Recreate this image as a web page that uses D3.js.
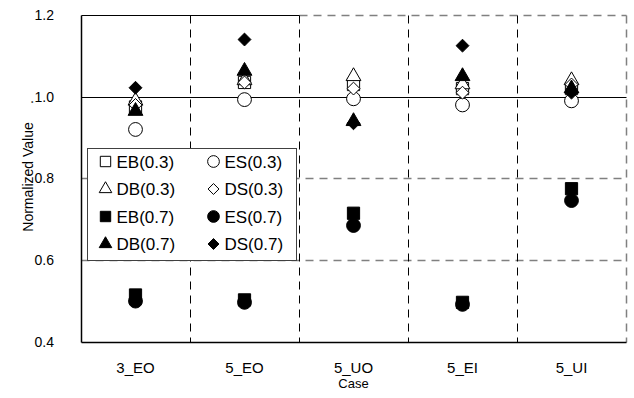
<!DOCTYPE html>
<html>
<head>
<meta charset="utf-8">
<script src="https://cdn.jsdelivr.net/npm/d3@7"></script>
<style>
  body { margin: 0; background: #fff; }
  text { font-family: "Liberation Sans", Arial, sans-serif; fill: #000; }
</style>
</head>
<body>
<div id="chart"></div>
<script>
// data
var cases = ["3_EO", "5_EO", "5_UO", "5_EI", "5_UI"];
var yTicks = [0.4, 0.6, 0.8, 1.0, 1.2];

var EB03 = [0.975, 1.035, 1.03, 1.02, 1.02];
var ES03 = [0.92, 0.993, 0.995, 0.98, 0.99];
var DB03 = [0.99, 1.04, 1.05, 1.03, 1.04];
var DS03 = [0.98, 1.035, 1.02, 1.01, 1.03];
var EB07 = [0.515, 0.503, 0.715, 0.497, 0.775];
var ES07 = [0.50, 0.497, 0.685, 0.492, 0.746];
var DB07 = [0.965, 1.063, 0.94, 1.05, 1.02];
var DS07 = [1.022, 1.14, 0.935, 1.125, 1.01];

var series = [
  {name: "EB(0.3)", values: EB03, shape: "square", filled: false},
  {name: "ES(0.3)", values: ES03, shape: "circle", filled: false},
  {name: "DB(0.3)", values: DB03, shape: "triangle", filled: false},
  {name: "DS(0.3)", values: DS03, shape: "diamond", filled: false},
  {name: "EB(0.7)", values: EB07, shape: "square", filled: true},
  {name: "ES(0.7)", values: ES07, shape: "circle", filled: true},
  {name: "DB(0.7)", values: DB07, shape: "triangle", filled: true},
  {name: "DS(0.7)", values: DS07, shape: "diamond", filled: true}
];

var width = 634, height = 398;
var margin = {left: 81, right: 8, top: 15, bottom: 56};
var w = width - margin.left - margin.right;
var h = height - margin.top - margin.bottom;

var svg = d3.select("#chart").append("svg")
  .attr("width", width).attr("height", height);

var x = d3.scaleBand().domain(cases).range([0, w]);
var y = d3.scaleLinear().domain([0.4, 1.2]).range([h, 0]);

var g = svg.append("g").attr("transform", "translate(" + margin.left + "," + margin.top + ")");
// half pixel shift for crisp 1px lines
var gl = g.append("g").attr("transform", "translate(0.5,0.5)");

// square rotated 45 degrees
var diamondType = {
  draw: function(ctx, size) {
    var r = Math.sqrt(size) / 2 * 1.05;
    ctx.moveTo(0, -r); ctx.lineTo(r, 0); ctx.lineTo(0, r); ctx.lineTo(-r, 0); ctx.closePath();
  }
};
function symType(s) {
  if (s == "square") return d3.symbolSquare;
  if (s == "circle") return d3.symbolCircle;
  if (s == "triangle") return d3.symbolTriangle;
  return diamondType;
}
function symSize(s, k) {
  var a = {square: 150, circle: 150, triangle: 95, diamond: 150}[s];
  return a * k;
}

// gridlines at 0.8 / 0.6 (gray dashed)
gl.selectAll(".hgrid").data([0.6, 0.8]).enter().append("line")
  .attr("x1", 0).attr("x2", w)
  .attr("y1", function(d) { return Math.round(y(d)); }).attr("y2", function(d) { return Math.round(y(d)); })
  .attr("stroke", "#808080").attr("stroke-width", 1.5).attr("stroke-dasharray", "8,6");

// top edge: solid part then dashed
gl.append("line").attr("x1", x(cases[2])).attr("x2", w).attr("y1", y(1.2)).attr("y2", y(1.2))
  .attr("stroke", "#808080").attr("stroke-width", 1.5).attr("stroke-dasharray", "8,6");
gl.append("line").attr("x1", 0).attr("x2", x(cases[2])).attr("y1", y(1.2)).attr("y2", y(1.2))
  .attr("stroke", "#000").attr("stroke-width", 1);
// right edge dashed
gl.append("line").attr("x1", w).attr("x2", w).attr("y1", 0).attr("y2", h)
  .attr("stroke", "#808080").attr("stroke-width", 1.5).attr("stroke-dasharray", "8,6");

// category separators
gl.selectAll(".vsep").data(cases.slice(1)).enter().append("line")
  .attr("x1", function(d) { return Math.round(x(d)); }).attr("x2", function(d) { return Math.round(x(d)); })
  .attr("y1", 0).attr("y2", h)
  .attr("stroke", "#000").attr("stroke-width", 1).attr("stroke-dasharray", "8,6");

// reference line at 1.0
gl.append("line").attr("x1", 0).attr("x2", w).attr("y1", Math.round(y(1.0))).attr("y2", Math.round(y(1.0)))
  .attr("stroke", "#000").attr("stroke-width", 1);

// axes
gl.append("line").attr("x1", 0).attr("x2", 0).attr("y1", 0).attr("y2", h)
  .attr("stroke", "#000").attr("stroke-width", 1.5);
gl.append("line").attr("x1", 0).attr("x2", w).attr("y1", h).attr("y2", h)
  .attr("stroke", "#000").attr("stroke-width", 1.5);

g.selectAll(".ylab").data(yTicks).enter().append("text")
  .attr("x", -27).attr("y", function(d) { return y(d); }).attr("dy", "0.35em")
  .attr("text-anchor", "end").style("font-size", "14px")
  .text(function(d) { return d.toFixed(1); });

g.selectAll(".xlab").data(cases).enter().append("text")
  .attr("x", function(d) { return x(d) + x.bandwidth() / 2; }).attr("y", h + 31)
  .attr("text-anchor", "middle").style("font-size", "15px")
  .text(function(d) { return d; });

svg.append("text").attr("x", margin.left + w / 2).attr("y", 388)
  .attr("text-anchor", "middle").style("font-size", "13px").text("Case");

svg.append("text").attr("transform", "translate(33,177) rotate(-90)")
  .attr("text-anchor", "middle").style("font-size", "14px").text("Normalized Value");
svg.append("text").attr("transform", "translate(33,102) rotate(-90)")
  .attr("text-anchor", "middle").style("font-size", "14px").text(".");

// points
series.forEach(function(s) {
  g.selectAll(null).data(s.values).enter().append("path")
    .attr("transform", function(d, i) { return "translate(" + (x(cases[i]) + x.bandwidth() / 2) + "," + y(d) + ")"; })
    .attr("d", d3.symbol().type(symType(s.shape)).size(symSize(s.shape, 1)))
    .attr("fill", s.filled ? "#000" : "#fff")
    .attr("stroke", "#000").attr("stroke-width", 1);
});

// legend
var lg = svg.append("g").attr("transform", "translate(87.5,148.5)");
lg.append("rect").attr("width", 209).attr("height", 112)
  .attr("fill", "#fff").attr("stroke", "#404040").attr("stroke-width", 1);
var legendOrder = [0, 1, 2, 3, 4, 5, 6, 7];
lg.selectAll(".item").data(legendOrder).enter().append("g")
  .attr("transform", function(d) {
    return "translate(" + (d % 2 == 0 ? 18 : 126) + "," + (13 + Math.floor(d / 2) * 27.5) + ")";
  })
  .each(function(d) {
    var s = series[d];
    var it = d3.select(this);
    it.append("path")
      .attr("d", d3.symbol().type(symType(s.shape)).size(symSize(s.shape, 0.72)))
      .attr("fill", s.filled ? "#000" : "#fff")
      .attr("stroke", "#000").attr("stroke-width", 1);
    it.append("text").attr("x", 11).attr("dy", "0.36em")
      .style("font-size", "17px").text(s.name);
  });
</script>
</body>
</html>
